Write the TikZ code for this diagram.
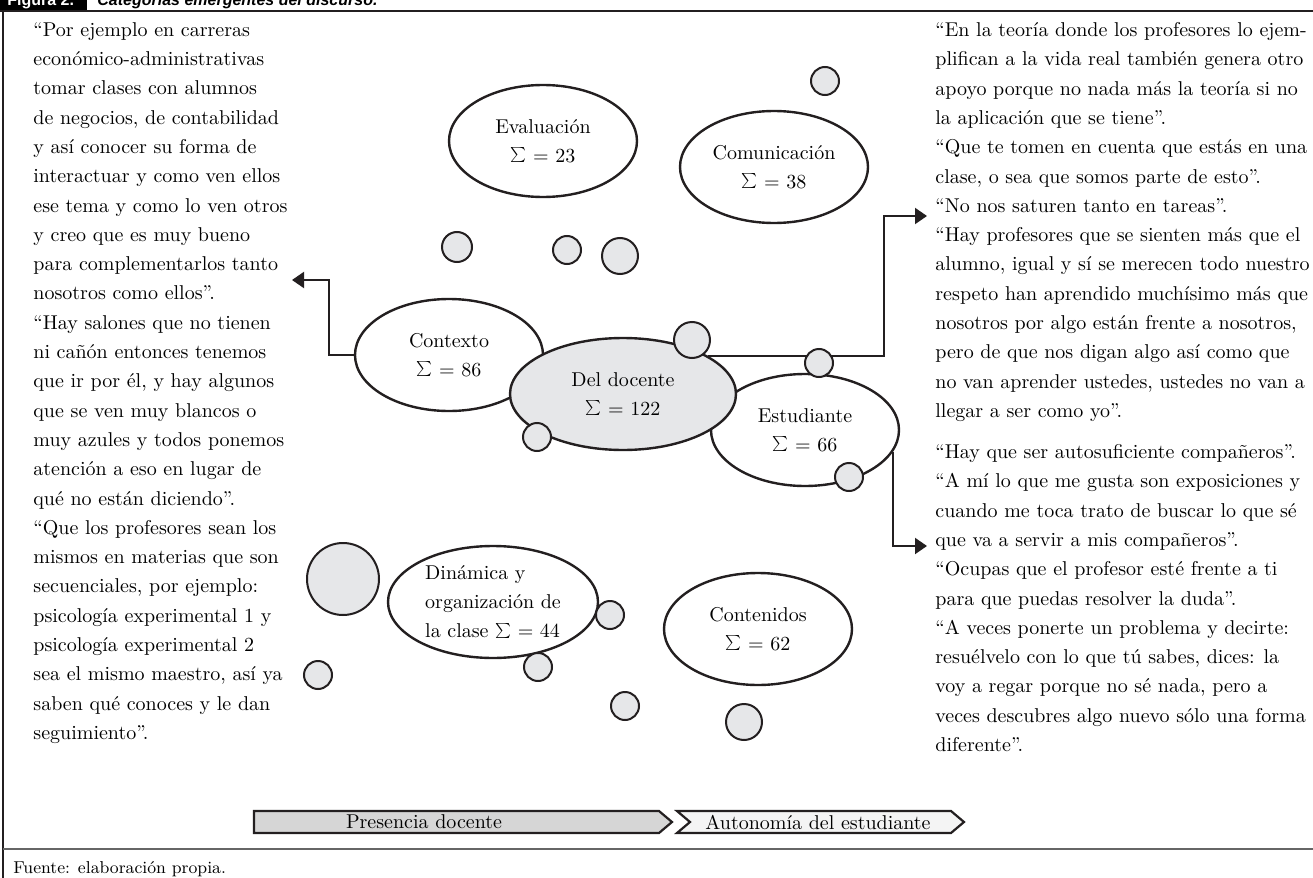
\documentclass[tikz,border=0pt]{standalone}
\usepackage{fontspec}
\newfontfamily\headfont{Liberation Sans}
\usetikzlibrary{arrows.meta,shapes.geometric}
\definecolor{burbujagris}{HTML}{E6E7E9}
\definecolor{barragris}{HTML}{D6D6D6}
\definecolor{barraclara}{HTML}{F4F4F4}
\definecolor{tinta}{HTML}{231F20}
\newcommand{\suma}{\raisebox{1.5pt}{\scalebox{0.75}{$\sum$}}}

\begin{document}
\begin{tikzpicture}[x=0.5pt,y=-0.5pt,
    categoria/.style={ellipse, draw=tinta, line width=1.2pt, fill=white, minimum width=94pt, minimum height=56pt, inner sep=0pt, align=center, font=\fontsize{10}{14.5}\selectfont},
    burbuja/.style={circle, draw=tinta, line width=1pt, fill=burbujagris, inner sep=0pt},
    flecha/.style={draw=tinta, line width=1pt, -{Triangle[length=6pt,width=8pt]}},
    cita/.style={anchor=north west, align=left, inner sep=0pt, font=\fontsize{10}{14.65}\selectfont},
    barra/.style={draw=tinta, line width=1.1pt}]

    \useasboundingbox (0,0) rectangle (1313,878);
    \clip (0,0) rectangle (1313,878);

    % marco y encabezado
    \fill[black] (0,-2) rectangle (87,11);
    \draw[tinta, line width=1.3pt] (0,11) -- (1313,11);
    \draw[tinta, line width=1pt] (3,11) -- (3,880);
    \draw[black!60, line width=1pt] (3,849) -- (1313,849);
    \node[anchor=base west, inner sep=0pt, text=white, font=\headfont\bfseries\fontsize{8}{9}\selectfont] (figura) at (7,5) {Figura 2.};
    \node[anchor=base west, inner sep=0pt, font=\headfont\bfseries\itshape\fontsize{8}{9}\selectfont] (titulo) at (97,5) {Categorías emergentes del discurso.};

    % citas
    \node[cita] (izq) at (33,22) {“Por ejemplo en carreras\\
        económico-administrativas\\
        tomar clases con alumnos\\
        de negocios, de contabilidad\\
        y así conocer su forma de\\
        interactuar y como ven ellos\\
        ese tema y como lo ven otros\\
        y creo que es muy bueno\\
        para complementarlos tanto\\
        nosotros como ellos”.\\
        “Hay salones que no tienen\\
        ni cañón entonces tenemos\\
        que ir por él, y hay algunos\\
        que se ven muy blancos o\\
        muy azules y todos ponemos\\
        atención a eso en lugar de\\
        qué no están diciendo”.\\
        “Que los profesores sean los\\
        mismos en materias que son\\
        secuenciales, por ejemplo:\\
        psicología experimental 1 y\\
        psicología experimental 2\\
        sea el mismo maestro, así ya\\
        saben qué conoces y le dan\\
        seguimiento”.};

    \node[cita] (der) at (935,22) {“En la teoría donde los profesores lo ejem-\\
        plifican a la vida real también genera otro\\
        apoyo porque no nada más la teoría si no\\
        la aplicación que se tiene”.\\
        “Que te tomen en cuenta que estás en una\\
        clase, o sea que somos parte de esto”.\\
        “No nos saturen tanto en tareas”.\\
        “Hay profesores que se sienten más que el\\
        alumno, igual y sí se merecen todo nuestro\\
        respeto han aprendido muchísimo más que\\
        nosotros por algo están frente a nosotros,\\
        pero de que nos digan algo así como que\\
        no van aprender ustedes, ustedes no van a\\
        llegar a ser como yo”.};

    \node[cita] (der2) at (935,444) {“Hay que ser autosuficiente compañeros”.\\
        “A mí lo que me gusta son exposiciones y\\
        cuando me toca trato de buscar lo que sé\\
        que va a servir a mis compañeros”.\\
        “Ocupas que el profesor esté frente a ti\\
        para que puedas resolver la duda”.\\
        “A veces ponerte un problema y decirte:\\
        resuélvelo con lo que tú sabes, dices: la\\
        voy a regar porque no sé nada, pero a\\
        veces descubres algo nuevo sólo una forma\\
        diferente”.};

    % categorias
    \node[categoria] (eval) at (543,141) {Evaluación\\\suma{} = 23};
    \node[categoria] (comu) at (774,167) {Comunicación\\\suma{} = 38};
    \node[categoria] (ctx) at (449,355) {Contexto\\\suma{} = 86};
    \node[categoria] (estud) at (805,430) {Estudiante\\\suma{} = 66};
    \node[categoria, fill=burbujagris, minimum width=113pt] (docente) at (623,394) {Del docente\\\suma{} = 122};
    \node[categoria, minimum width=105pt, align=left] (dinam) at (493,602) {Dinámica y\\organización de\\la clase \suma{} = 44};
    \node[categoria] (cont) at (758,629) {Contenidos\\\suma{} = 62};

    % conectores
    \coordinate (codoO) at (329,280);
    \coordinate (puntaO) at (292,280);
    \coordinate (codoN) at (884,216);
    \coordinate (puntaN) at (927,216);
    \coordinate (puntaS) at (927,546);
    \draw[flecha] (ctx.west) -| (codoO) -- (puntaO);
    \draw[flecha] (docente.24) -| (codoN) -- (puntaN);
    \draw[flecha] (estud.-14) |- (puntaS);

    % burbujas
    \node[burbuja, minimum size=14pt] (b1) at (825,81) {};
    \node[burbuja, minimum size=15pt] (b2) at (457,247) {};
    \node[burbuja, minimum size=14pt] (b3) at (567,250) {};
    \node[burbuja, minimum size=18pt] (b4) at (620,256) {};
    \node[burbuja, minimum size=18pt] (b5) at (692,340) {};
    \node[burbuja, minimum size=14pt] (b6) at (537,437) {};
    \node[burbuja, minimum size=14pt] (b7) at (819,363) {};
    \node[burbuja, minimum size=14pt] (b8) at (849,477) {};
    \node[burbuja, minimum size=36pt] (b9) at (343,579) {};
    \node[burbuja, minimum size=14pt] (b10) at (610,615) {};
    \node[burbuja, minimum size=14pt] (b11) at (538,667) {};
    \node[burbuja, minimum size=14pt] (b12) at (318,675) {};
    \node[burbuja, minimum size=14pt] (b13) at (625,706) {};
    \node[burbuja, minimum size=18pt] (b14) at (744,722) {};

    % barra inferior
    \draw[barra, fill=barragris] (254,811) -- (659,811) -- (672,822) -- (659,833) -- (254,833) -- cycle;
    \node (presencia) at (424,822) {Presencia docente};
    \draw[barra, fill=barraclara] (677,811) -- (951,811) -- (964,822) -- (951,833) -- (677,833) -- (690,822) -- cycle;
    \node (autonomia) at (818,822) {Autonomía del estudiante};

    \node[anchor=base west, inner sep=0pt, font=\fontsize{8.6}{10}\selectfont] (fuente) at (13,873) {Fuente: elaboración propia.};
\end{tikzpicture}
\end{document}
